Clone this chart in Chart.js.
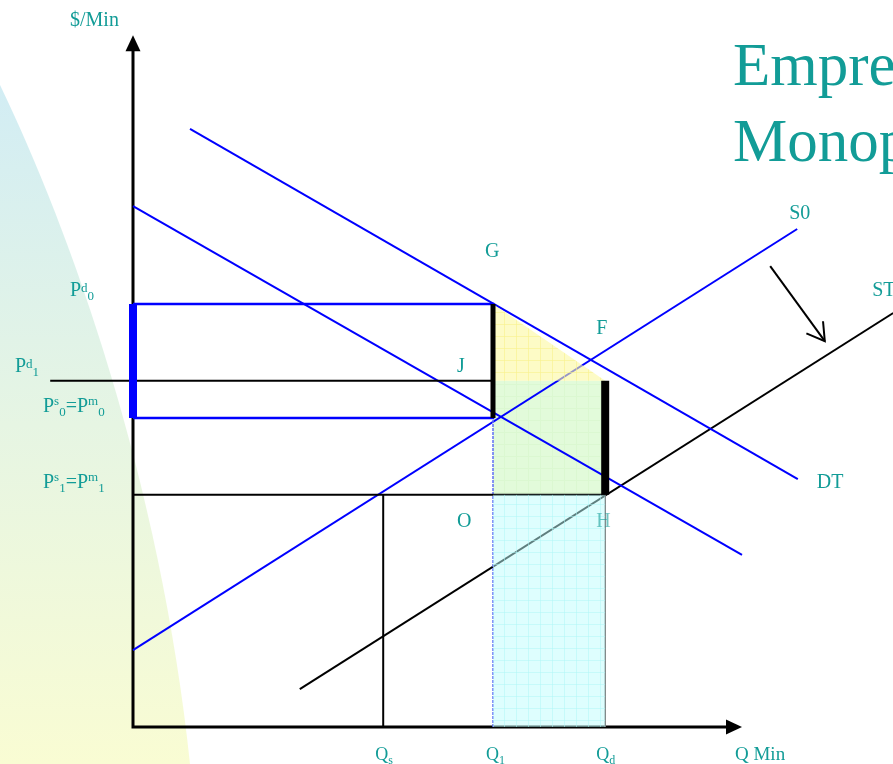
<!DOCTYPE html>
<html>
<head>
<meta charset="utf-8">
<script src="https://cdn.jsdelivr.net/npm/chart.js@4.4.0/dist/chart.umd.min.js"></script>
<style>
  html, body { margin: 0; padding: 0; background: #fff; }
  #wrap { width: 893px; height: 764px; }
</style>
</head>
<body>
<div id="wrap"><canvas id="chart" width="893" height="764"></canvas></div>
<script>
// quantities on the horizontal axis
const quantityLabels = ['Qs', 'Q1', 'Qd'];
const quantityValues = [41.7, 60, 78.7];

// price levels on the vertical axis
const priceLabels = ['Pd0', 'Pd1', 'Ps0=Pm0', 'Ps1=Pm1'];
const priceValues = [70.5, 57.7, 51.5, 38.7];

// curves, [x, y] at both ends
const demandTax = [[9.5, 99.7], [110.8, 41.3]];   // DT
const demand0 = [[0, 86.8], [101.5, 28.7]];
const supply0 = [[0, 12.8], [110.7, 83.0]];       // S0
const supplyTax = [[27.8, 6.3], [126.7, 69.0]];   // ST
const shiftArrow = [[106.2, 76.8], [115.3, 64.3]];
const pd1Start = -13.8;
const axisEnd = [101.5, 115.3];

const [Qs, Q1, Qd] = quantityValues;
const [Pd0, Pd1, Ps0, Ps1] = priceValues;

const teal = '#129c97';

// faint grid texture like the slide's fill pattern
function gridPattern(base, line) {
    const c = document.createElement('canvas');
    c.width = 12; c.height = 12;
    const g = c.getContext('2d');
    g.fillStyle = base;
    g.fillRect(0, 0, 12, 12);
    g.fillStyle = line;
    g.fillRect(0, 0, 12, 1);
    g.fillRect(0, 0, 1, 12);
    return g.createPattern(c, 'repeat');
}

function pts(list) {
    return list.map(p => ({ x: p[0], y: p[1] }));
}

function lineSet(list, color, width, order, extra) {
    return Object.assign({
        data: pts(list),
        borderColor: color,
        borderWidth: width,
        pointRadius: 0,
        fill: false,
        tension: 0,
        order: order
    }, extra || {});
}

function areaSet(list, color, order) {
    return {
        data: pts(list),
        borderWidth: 0,
        borderColor: 'rgba(0,0,0,0)',
        backgroundColor: color,
        pointRadius: 0,
        fill: 'shape',
        tension: 0,
        order: order
    };
}

const datasets = [
    // green area under the lines
    areaSet([[Q1, Ps1], [Qd, Ps1], [Qd, Pd1], [Q1, Pd1], [Q1, Ps1]],
        gridPattern('#e2fbda', '#dbf8d1'), 20),

    // curves
    lineSet(demandTax, '#0000ff', 2, 10),
    lineSet(demand0, '#0000ff', 2, 10),
    lineSet(supply0, '#0000ff', 2, 10),
    lineSet(supplyTax, '#000000', 2, 10),

    // price and quantity guides
    lineSet([[0, Ps0], [Q1, Ps0], [Q1, Pd0], [0, Pd0]], '#0000ff', 2.5, 9),
    lineSet([[pd1Start, Pd1], [Q1, Pd1]], '#000000', 2, 9),
    lineSet([[0, Ps1], [Qd, Ps1]], '#000000', 2, 9),
    lineSet([[Qs, 0], [Qs, Ps1]], '#000000', 2, 9),
    lineSet([[Qd, 0], [Qd, Ps1]], '#777777', 1.5, 9),
    lineSet([[Q1, 0], [Q1, Ps0]], '#6070f5', 1.5, 9, { borderDash: [3, 1] }),

    // translucent areas over the lines
    areaSet([[Q1, Pd0], [Q1, Pd1], [Qd, Pd1], [Q1, Pd0]],
        gridPattern('rgba(252,248,160,0.6)', 'rgba(248,242,140,0.6)'), 5),
    areaSet([[Q1, 0], [Qd, 0], [Qd, Ps1], [Q1, Ps1], [Q1, 0]],
        gridPattern('rgba(190,253,253,0.5)', 'rgba(176,248,248,0.5)'), 5),

    // thick bars
    lineSet([[0, Ps0], [0, Pd0]], '#0000ff', 8, 2),
    lineSet([[Q1, Ps0], [Q1, Pd0]], '#000000', 5, 2),
    lineSet([[Qd, Ps1], [Qd, Pd1]], '#000000', 8, 2),

    // shift arrow shaft
    lineSet(shiftArrow, '#000000', 2, 1)
];

// text with sub/superscripts: [text, 'sup'|'sub'|undefined]
function drawRich(ctx, parts, x, y, size, small) {
    let cx = x;
    const capH = size * 0.662;
    parts.forEach(p => {
        const s = p[1] ? small : size;
        ctx.font = s + 'px "Liberation Serif", "Times New Roman", serif';
        let dy = 0;
        if (p[1] === 'sup') {
            const m = ctx.measureText(p[0]);
            dy = -capH + m.actualBoundingBoxAscent;
        } else if (p[1] === 'sub') {
            dy = 4;
        }
        ctx.fillText(p[0], cx, y + dy);
        cx += ctx.measureText(p[0]).width;
    });
}

function splitLabel(label) {
    // Pd0 -> P, d sup, 0 sub ; Ps0=Pm0 -> two groups
    const out = [];
    label.split('=').forEach((g, i) => {
        out.push([(i ? '=' : '') + g[0]]);
        if (g.length === 3) {
            out.push([g[1], 'sup']);
            out.push([g[2], 'sub']);
        } else if (g.length === 2) {
            out.push([g[1], 'sub']);
        }
    });
    return out;
}

const background = {
    id: 'background',
    beforeDraw(chart) {
        const ctx = chart.ctx;
        const h = chart.height;
        ctx.save();
        const g = ctx.createLinearGradient(0, 85, 0, h);
        g.addColorStop(0, '#d2edf4');
        g.addColorStop(0.5, '#e6f5e3');
        g.addColorStop(1, '#f9fcd3');
        ctx.fillStyle = g;
        ctx.beginPath();
        ctx.moveTo(0, 85);
        ctx.bezierCurveTo(70, 230, 160, 480, 190, h);
        ctx.lineTo(0, h);
        ctx.closePath();
        ctx.fill();
        ctx.restore();
    },
    // axes go under the marks, as on the slide
    beforeDatasetsDraw(chart) {
        const ctx = chart.ctx;
        const xs = chart.scales.x, ys = chart.scales.y;
        const ox = xs.getPixelForValue(0), oy = ys.getPixelForValue(0);
        const tipX = xs.getPixelForValue(axisEnd[0]), tipY = ys.getPixelForValue(axisEnd[1]);
        ctx.save();
        ctx.strokeStyle = '#000';
        ctx.fillStyle = '#000';
        ctx.lineWidth = 3;
        ctx.beginPath();
        ctx.moveTo(ox, oy);
        ctx.lineTo(ox, tipY + 14);
        ctx.moveTo(ox - 1.5, oy);
        ctx.lineTo(tipX - 14, oy);
        ctx.stroke();
        ctx.beginPath();
        ctx.moveTo(ox, tipY);
        ctx.lineTo(ox - 7.5, tipY + 16);
        ctx.lineTo(ox + 7.5, tipY + 16);
        ctx.closePath();
        ctx.fill();
        ctx.beginPath();
        ctx.moveTo(tipX, oy);
        ctx.lineTo(tipX - 16, oy - 7.5);
        ctx.lineTo(tipX - 16, oy + 7.5);
        ctx.closePath();
        ctx.fill();
        ctx.restore();
    }
};

const annotations = {
    id: 'annotations',
    afterDatasetsDraw(chart) {
        const ctx = chart.ctx;
        const xs = chart.scales.x, ys = chart.scales.y;
        const px = v => xs.getPixelForValue(v);
        const py = v => ys.getPixelForValue(v);
        const ox = px(0), oy = py(0);
        const tipX = px(axisEnd[0]), tipY = py(axisEnd[1]);

        ctx.save();
        // open arrow head on shift arrow
        const ax0 = px(shiftArrow[0][0]), ay0 = py(shiftArrow[0][1]);
        const ax1 = px(shiftArrow[1][0]), ay1 = py(shiftArrow[1][1]);
        const ang = Math.atan2(ay0 - ay1, ax0 - ax1);
        ctx.strokeStyle = '#000';
        ctx.lineWidth = 2;
        ctx.beginPath();
        ctx.moveTo(ax1 + 20 * Math.cos(ang + 0.54), ay1 + 20 * Math.sin(ang + 0.54));
        ctx.lineTo(ax1, ay1);
        ctx.lineTo(ax1 + 20 * Math.cos(ang - 0.54), ay1 + 20 * Math.sin(ang - 0.54));
        ctx.stroke();

        // labels
        ctx.fillStyle = teal;
        ctx.textBaseline = 'alphabetic';
        ctx.textAlign = 'left';
        const font = s => s + 'px "Liberation Serif", "Times New Roman", serif';
        const text = (t, x, y, s) => { ctx.font = font(s || 20); ctx.fillText(t, x, y); };

        text('G', px(Q1) - 8, py(Pd0) - 47);
        text('F', px(Qd) - 9, py(Pd1) - 47);
        text('J', px(Q1) - 36, py(Pd1) - 9);
        text('O', px(Q1) - 36, py(Ps1) + 32);
        ctx.globalAlpha = 0.6;
        text('H', px(Qd) - 9, py(Ps1) + 32);
        ctx.globalAlpha = 1;
        text('DT', px(demandTax[1][0]) + 19, py(demandTax[1][1]) + 9);
        text('S0', px(supply0[1][0]) - 8, py(supply0[1][1]) - 10);
        text('ST', px(supplyTax[1][0]) - 21, py(supplyTax[1][1]) - 17);

        const priceOffsets = [[-63, -8], [-118, -9], [-90, -6], [-90, -7]];
        priceLabels.forEach((l, i) => {
            drawRich(ctx, splitLabel(l), ox + priceOffsets[i][0], py(priceValues[i]) + priceOffsets[i][1], 20, 13);
        });
        const qOffsets = [-8, -7, -9];
        quantityLabels.forEach((l, i) => {
            drawRich(ctx, splitLabel(l), px(quantityValues[i]) + qOffsets[i], oy + 33, 18, 12);
        });
        text('Q Min', tipX - 7, oy + 33, 19);
        text('$/Min', ox - 63, tipY - 9, 20);

        // title (cut off at the right edge, as in the slide)
        ctx.font = font(61);
        ctx.fillText('Empresa', 733, 85);
        ctx.fillText('Monopolio', 733, 161);
        ctx.restore();
    }
};

new Chart(document.getElementById('chart'), {
    type: 'line',
    data: { datasets: datasets },
    options: {
        responsive: false,
        animation: false,
        layout: { padding: 0 },
        plugins: { legend: { display: false }, tooltip: { enabled: false } },
        scales: {
            x: { type: 'linear', min: -133 / 6, max: 760 / 6, display: false },
            y: { type: 'linear', min: -37 / 6, max: 727 / 6, display: false }
        }
    },
    plugins: [background, annotations]
});
</script>
</body>
</html>
